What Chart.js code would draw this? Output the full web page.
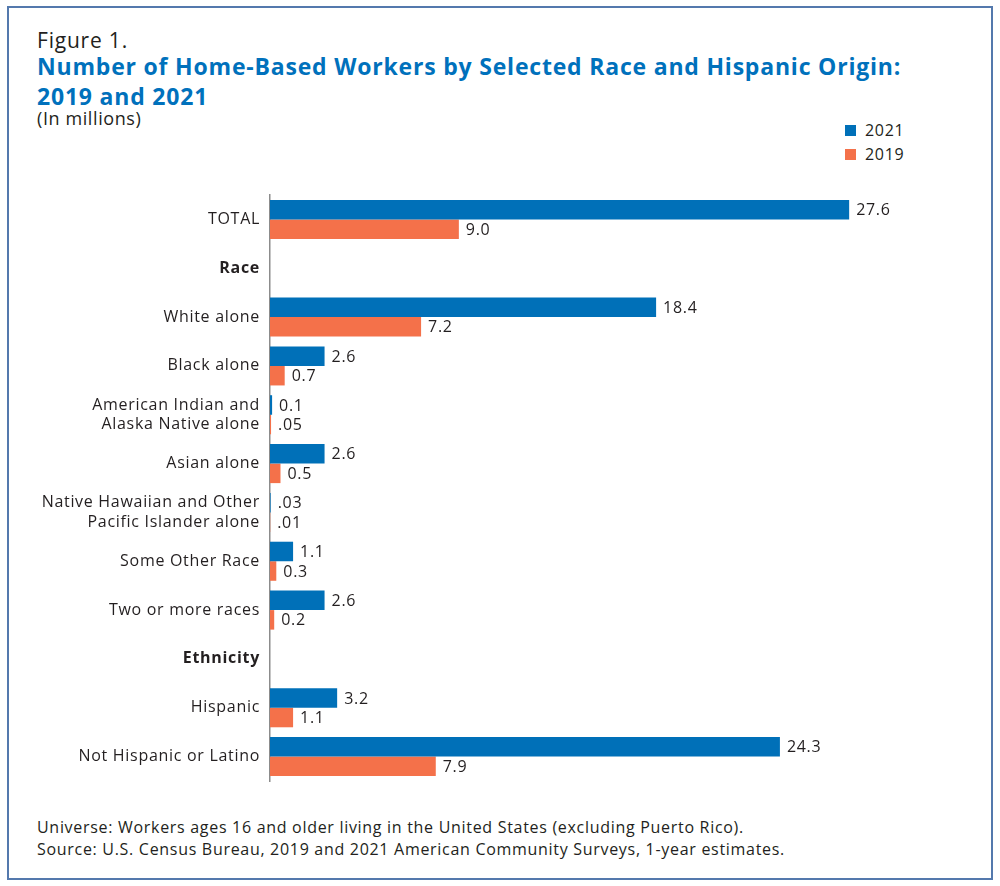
<!DOCTYPE html>
<html>
<head>
<meta charset="utf-8">
<script src="https://cdn.jsdelivr.net/npm/chart.js@4.4.1/dist/chart.umd.min.js"></script>
<style>
  html, body { margin: 0; padding: 0; background: #fff; }
  body { width: 1000px; height: 886px; position: relative; overflow: hidden; font-family: "Open Sans", sans-serif; color: #231f20; }
  #frame { position: absolute; left: 7px; top: 6px; width: 982px; height: 870px; border: 2px solid #5479ad; }
  .txt { position: absolute; left: 37px; white-space: nowrap; }
  #fig { top: 26px; font-size: 21px; letter-spacing: 0.8px; }
  #title { top: 51px; font-size: 23px; font-weight: bold; color: #0071bc; line-height: 30px; letter-spacing: 0.8px; }
  #unit { top: 106px; font-size: 18px; letter-spacing: 0.6px; }
  #foot { top: 816px; font-size: 16px; line-height: 22px; letter-spacing: 0.7px; }
  #legend { position: absolute; left: 845px; top: 118px; font-size: 16px; letter-spacing: 0.7px; }
  #legend div { height: 24px; display: flex; align-items: center; }
  #legend span.sw { display: inline-block; width: 11px; height: 11px; margin-right: 9px; }
  #wrap { position: absolute; left: 8px; top: 150px; width: 983px; height: 660px; }
</style>
</head>
<body>
<div id="frame"></div>
<div class="txt" id="fig">Figure 1.</div>
<div class="txt" id="title">Number of Home-Based Workers by Selected Race and Hispanic Origin:<br>2019 and 2021</div>
<div class="txt" id="unit">(In millions)</div>
<div id="legend"></div>
<div id="wrap"><canvas id="myChart" width="983" height="660"></canvas></div>
<div class="txt" id="foot">Universe: Workers ages 16 and older living in the United States (excluding Puerto Rico).<br>Source: U.S. Census Bureau, 2019 and 2021 American Community Surveys, 1-year estimates.</div>
<script>
const categories = [
  'TOTAL', 'Race', 'White alone', 'Black alone',
  ['American Indian and', 'Alaska Native alone'],
  'Asian alone',
  ['Native Hawaiian and Other', 'Pacific Islander alone'],
  'Some Other Race', 'Two or more races', 'Ethnicity', 'Hispanic', 'Not Hispanic or Latino'
];
const headerRows = ['Race', 'Ethnicity'];
const values2021 = [27.6, null, 18.4, 2.6, 0.1, 2.6, 0.03, 1.1, 2.6, null, 3.2, 24.3];
const values2019 = [9.0, null, 7.2, 0.7, 0.05, 0.5, 0.01, 0.3, 0.2, null, 1.1, 7.9];
const labels2021 = ['27.6', '', '18.4', '2.6', '0.1', '2.6', '.03', '1.1', '2.6', '', '3.2', '24.3'];
const labels2019 = ['9.0', '', '7.2', '0.7', '.05', '0.5', '.01', '0.3', '0.2', '', '1.1', '7.9'];
const seriesNames = ['2021', '2019'];
const seriesColors = ['#0070b8', '#f4714a'];

// wider letter spacing so the text matches the original typeface width
const spacing = {
  id: 'spacing',
  beforeDraw(chart) {
    chart.ctx.letterSpacing = '0.7px';
  }
};

// value labels at the bar ends
const valueLabels = {
  id: 'valueLabels',
  afterDatasetsDraw(chart) {
    const ctx = chart.ctx;
    const texts = [labels2021, labels2019];
    ctx.save();
    ctx.letterSpacing = '0.7px';
    ctx.font = '16px "Open Sans"';
    ctx.fillStyle = '#231f20';
    ctx.textAlign = 'left';
    ctx.textBaseline = 'middle';
    chart.data.datasets.forEach((ds, i) => {
      chart.getDatasetMeta(i).data.forEach((bar, j) => {
        if (ds.data[j] == null) return;
        ctx.fillText(texts[i][j], bar.x + 7, bar.y + 1);
      });
    });
    ctx.restore();
  }
};

const chart = new Chart(document.getElementById('myChart').getContext('2d'), {
  type: 'bar',
  data: {
    labels: categories,
    datasets: [
      { label: seriesNames[0], data: values2021, backgroundColor: seriesColors[0] },
      { label: seriesNames[1], data: values2019, backgroundColor: seriesColors[1] }
    ]
  },
  options: {
    indexAxis: 'y',
    responsive: false,
    animation: false,
    layout: { padding: { top: 45, bottom: 29, right: 60, left: 0 } },
    datasets: { bar: { categoryPercentage: 0.8, barPercentage: 1.0 } },
    plugins: { legend: { display: false }, tooltip: { enabled: false } },
    scales: {
      x: { display: false, min: 0, max: 31.5 },
      y: {
        grid: { display: false, drawTicks: false },
        border: { display: true, color: '#8c8c8c', width: 1.5 },
        afterFit: (scale) => { scale.width = 262; },
        ticks: {
          padding: 10,
          color: '#231f20',
          font: (c) => ({
            family: '"Open Sans"',
            size: 16,
            lineHeight: 1.22,
            weight: headerRows.includes(categories[c.index]) ? 'bold' : 'normal'
          })
        }
      }
    }
  },
  plugins: [spacing, valueLabels]
});

// legend stacked vertically, built from the chart's datasets
const legend = document.getElementById('legend');
chart.data.datasets.forEach((ds) => {
  const row = document.createElement('div');
  row.innerHTML = '<span class="sw" style="background:' + ds.backgroundColor + '"></span>' + ds.label;
  legend.appendChild(row);
});
</script>
</body>
</html>
